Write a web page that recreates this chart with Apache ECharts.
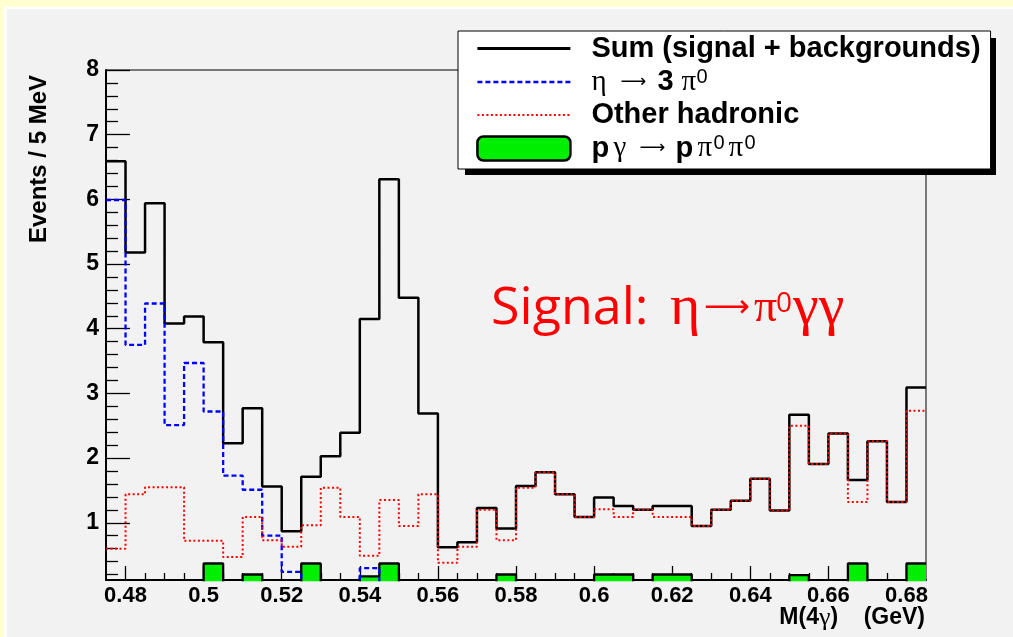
<!DOCTYPE html>
<html>
<head>
<meta charset="utf-8">
<title>M(4γ) spectrum</title>
<script src="https://cdn.jsdelivr.net/npm/echarts@6/dist/echarts.min.js"></script>
<style>
  html, body { margin: 0; padding: 0; width: 1013px; height: 637px; overflow: hidden; background: #ffffd2; }
  #pad { position: absolute; left: 4px; top: 7px; right: 0; bottom: 0; background: #ffffff; }
  #padInner { position: absolute; left: 7px; top: 9px; right: 0; bottom: 0; background: #f2f2f2; }
  #chart { position: absolute; left: 0; top: 0; width: 1013px; height: 637px; }
</style>
</head>
<body>
<div id="pad"></div>
<div id="padInner"></div>
<div id="chart"></div>
<script>
// Histogram binning: 5 MeV bins from 0.475 to 0.685 GeV
const massLow = 0.475;
const binWidth = 0.005;
const binCount = 42;

// Events per bin
const sumEvents = [
  6.59, 5.18, 5.94, 4.08, 4.19, 3.79, 2.23, 2.77, 1.56, 0.87,
  1.71, 2.03, 2.39, 4.15, 6.31, 4.48, 2.69, 0.62, 0.70, 1.23,
  0.91, 1.57, 1.78, 1.44, 1.09, 1.39, 1.26, 1.20, 1.26, 1.26,
  0.95, 1.20, 1.34, 1.68, 1.19, 2.67, 1.91, 2.38, 1.66, 2.26,
  1.32, 3.09
];
const eta3pi0 = [
  5.99, 3.75, 4.39, 2.51, 3.47, 2.72, 1.73, 1.51, 0.80, 0.24,
  0, 0, 0, 0.30, 0, 0, 0, 0, 0, 0,
  0, 0, 0, 0, 0, 0, 0, 0, 0, 0,
  0, 0, 0, 0, 0, 0, 0, 0, 0, 0,
  0, 0
];
const otherHadronic = [
  0.60, 1.44, 1.55, 1.55, 0.72, 0.72, 0.47, 1.09, 0.73, 0.63,
  0.96, 1.54, 1.09, 0.49, 1.35, 0.95, 1.44, 0.38, 0.63, 1.20,
  0.73, 1.54, 1.78, 1.44, 1.09, 1.21, 1.09, 1.20, 1.09, 1.09,
  0.95, 1.20, 1.34, 1.68, 1.19, 2.50, 1.91, 2.38, 1.32, 2.26,
  1.32, 2.73
];
const pGammaPi0Pi0 = [
  0, 0, 0, 0, 0, 0.37, 0, 0.20, 0, 0,
  0.37, 0, 0, 0.17, 0.37, 0, 0, 0, 0, 0,
  0.20, 0, 0, 0, 0, 0.20, 0.20, 0, 0.20, 0.20,
  0, 0, 0, 0, 0, 0.19, 0, 0, 0.37, 0,
  0, 0.37
];

// Axis ticks
const xMajorTicks = [0.48, 0.50, 0.52, 0.54, 0.56, 0.58, 0.60, 0.62, 0.64, 0.66, 0.68];
const yMajorTicks = [1, 2, 3, 4, 5, 6, 7, 8];
const yMin = 0.115, yMax = 8;

const seriesNames = ['Sum (signal + backgrounds)', 'η → 3π⁰', 'Other hadronic', 'pγ → pπ⁰π⁰'];
const legendText = {
  'Sum (signal + backgrounds)': '{b|Sum (signal + backgrounds)}',
  'η → 3π⁰': '{g29|η}{ar37|⟶}{b24|3}{g15|π}{s|0}',
  'Other hadronic': '{b|Other hadronic}',
  'pγ → pπ⁰π⁰': '{b22|p}{g26|γ}{ar36|⟶}{b22|p}{g16|π}{s15|0}{g16|π}{s|0}'
};

const edges = [];
for (let i = 0; i <= binCount; i++) edges.push(+(massLow + binWidth * i).toFixed(3));
const xMinorTicks = [];
for (let i = 1; i < binCount; i++) {
  const e = edges[i];
  if (!xMajorTicks.some(t => Math.abs(t - e) < 1e-6)) xMinorTicks.push(e);
}
const yMinorTicks = [];
for (let k = 1; k < 40; k++) {
  const v = +(k * 0.2).toFixed(1);
  if (Math.abs(v - Math.round(v)) > 1e-6) yMinorTicks.push(v);
}

// Step-histogram points: left edge of every bin, plus the closing right edge
function stepPoints(values) {
  const pts = values.map((v, i) => [edges[i], v]);
  pts.push([edges[binCount], values[binCount - 1]]);
  return pts;
}

// Rich-text styles for the legend entries
const legendFont = 29;
const boldTok = w => ({ fontFamily: 'Liberation Sans', fontWeight: 'bold', fontSize: legendFont, lineHeight: 30, color: '#000', width: w });
const greekTok = w => ({ fontFamily: 'Liberation Serif', fontSize: legendFont, lineHeight: 30, color: '#000', width: w });
const arrowTok = w => ({ fontFamily: 'DejaVu Sans', fontSize: 18, lineHeight: 30, color: '#000', width: w });
const supTok = w => ({ fontFamily: 'Liberation Sans', fontSize: 20, lineHeight: 6, verticalAlign: 'top', color: '#000', width: w });

const sansBold = { fontFamily: 'Liberation Sans', fontWeight: 'bold', color: '#000' };

// Legend frame geometry (used for its drop shadow)
const legendBox = { x: 458, y: 31, w: 531, h: 137, shadow: 7 };

const chart = echarts.init(document.getElementById('chart'), null, { renderer: 'canvas' });
chart.setOption({
  animation: false,
  backgroundColor: 'transparent',
  grid: {
    left: 106, right: 87, top: 70, bottom: 57,
    show: true, borderColor: '#000', borderWidth: 1, backgroundColor: 'transparent'
  },
  xAxis: [{
    type: 'value', min: massLow, max: +(massLow + binWidth * binCount).toFixed(3),
    position: 'bottom',
    axisLine: { show: true, onZero: false, lineStyle: { color: '#000', width: 2 } },
    axisTick: { show: true, inside: true, length: 14, customValues: xMajorTicks, lineStyle: { color: '#000', width: 1.3 } },
    axisLabel: Object.assign({
      show: true, customValues: xMajorTicks, fontSize: 22, margin: 5,
      formatter: v => String(+v.toFixed(2))
    }, sansBold),
    splitLine: { show: false }
  }, {
    type: 'value', min: massLow, max: +(massLow + binWidth * binCount).toFixed(3),
    position: 'bottom',
    axisLine: { show: false, onZero: false },
    axisTick: { show: true, inside: true, length: 7, customValues: xMinorTicks, lineStyle: { color: '#000', width: 1.3 } },
    axisLabel: { show: false },
    splitLine: { show: false }
  }],
  yAxis: [{
    type: 'value', min: yMin, max: yMax, position: 'left',
    axisLine: { show: true, onZero: false, lineStyle: { color: '#000', width: 2 } },
    axisTick: { show: true, inside: true, length: 24, customValues: yMajorTicks, lineStyle: { color: '#000', width: 1.3 } },
    axisLabel: Object.assign({ show: true, customValues: yMajorTicks, fontSize: 23, margin: 7 }, sansBold),
    splitLine: { show: false }
  }, {
    type: 'value', min: yMin, max: yMax, position: 'left',
    axisLine: { show: false, onZero: false },
    axisTick: { show: true, inside: true, length: 12, customValues: yMinorTicks, lineStyle: { color: '#000', width: 1.3 } },
    axisLabel: { show: false },
    splitLine: { show: false }
  }],
  legend: {
    orient: 'vertical', left: legendBox.x, top: legendBox.y, z: 4,
    itemWidth: 93, itemHeight: 24, itemGap: 4,
    padding: [3, 10, 6, 18],
    backgroundColor: '#ffffff', borderColor: '#000', borderWidth: 1,
    selectedMode: false,
    data: [
      { name: seriesNames[0], itemStyle: { opacity: 0 }, lineStyle: { width: 2.8 } },
      { name: seriesNames[1], itemStyle: { opacity: 0 }, lineStyle: { width: 2.5 } },
      { name: seriesNames[2], itemStyle: { opacity: 0 }, lineStyle: { width: 2 } },
      { name: seriesNames[3], icon: 'roundRect', itemStyle: { color: '#00ee00', borderColor: '#000', borderWidth: 2.5 } }
    ],
    formatter: n => legendText[n],
    textStyle: {
      padding: [0, 0, 0, 16],
      rich: {
        b: boldTok(undefined), b22: boldTok(22), b24: boldTok(24),
        g15: greekTok(15), g16: greekTok(16), g26: greekTok(26), g29: greekTok(29),
        ar36: arrowTok(36), ar37: arrowTok(37),
        s: supTok(undefined), s15: supTok(15)
      }
    }
  },
  graphic: [{
    // drop shadow behind the legend frame
    type: 'rect', z: 3, silent: true,
    shape: { x: legendBox.x + legendBox.shadow, y: legendBox.y + legendBox.shadow, width: legendBox.w, height: legendBox.h },
    style: { fill: '#000' }
  }, {
    type: 'text', z: 10,
    style: {
      x: 39, y: 159, text: 'Events / 5 MeV',
      fontFamily: 'Liberation Sans', fontWeight: 'bold', fontSize: 24, fill: '#000',
      align: 'center', verticalAlign: 'middle'
    },
    rotation: Math.PI / 2, originX: 39, originY: 159
  }, {
    type: 'text', z: 10,
    style: {
      x: 925, y: 618, align: 'right', verticalAlign: 'middle',
      text: '{b|M(4}{g|γ}{b|)    (GeV)}',
      rich: {
        b: { fontFamily: 'Liberation Sans', fontWeight: 'bold', fontSize: 23, fill: '#000' },
        g: { fontFamily: 'Liberation Serif', fontSize: 26, fill: '#000' }
      }
    }
  }, {
    type: 'text', z: 10,
    style: {
      x: 491, y: 309, align: 'left', verticalAlign: 'middle',
      text: '{a|Signal:}{g|η}{r|⟶}{p|π}{s|0}{g|γγ}',
      rich: {
        a: { fontFamily: 'Open Sans', fontSize: 52, lineHeight: 64, fill: '#ff0000', width: 179 },
        g: { fontFamily: 'Liberation Serif', fontSize: 58, lineHeight: 64, fill: '#ff0000', width: 34 },
        r: { fontFamily: 'DejaVu Sans', fontSize: 32, lineHeight: 64, fill: '#ff0000', width: 50 },
        p: { fontFamily: 'Liberation Serif', fontSize: 46, lineHeight: 64, fill: '#ff0000', width: 22 },
        s: { fontFamily: 'Open Sans', fontSize: 28, lineHeight: 28, padding: [0, 0, 10, 0], fill: '#ff0000', width: 17 }
      }
    }
  }],
  series: [{
    name: seriesNames[3], type: 'line', step: 'end', symbol: 'none', z: 2,
    data: stepPoints(pGammaPi0Pi0),
    lineStyle: { color: '#000', width: 2.3 },
    itemStyle: { color: '#00ee00' },
    areaStyle: { color: '#00ee00', opacity: 1, origin: 0 }
  }, {
    name: seriesNames[0], type: 'line', step: 'end', symbol: 'none', z: 2,
    data: stepPoints(sumEvents),
    lineStyle: { color: '#000', width: 2.5 },
    itemStyle: { color: '#000' }
  }, {
    name: seriesNames[1], type: 'line', step: 'end', symbol: 'none', z: 2,
    data: stepPoints(eta3pi0),
    lineStyle: { color: '#0000ff', width: 2.3, type: [5, 3] },
    itemStyle: { color: '#0000ff' }
  }, {
    name: seriesNames[2], type: 'line', step: 'end', symbol: 'none', z: 2,
    data: stepPoints(otherHadronic),
    lineStyle: { color: '#ff0000', width: 2, type: [2, 2.5] },
    itemStyle: { color: '#ff0000' }
  }]
});
</script>
</body>
</html>
